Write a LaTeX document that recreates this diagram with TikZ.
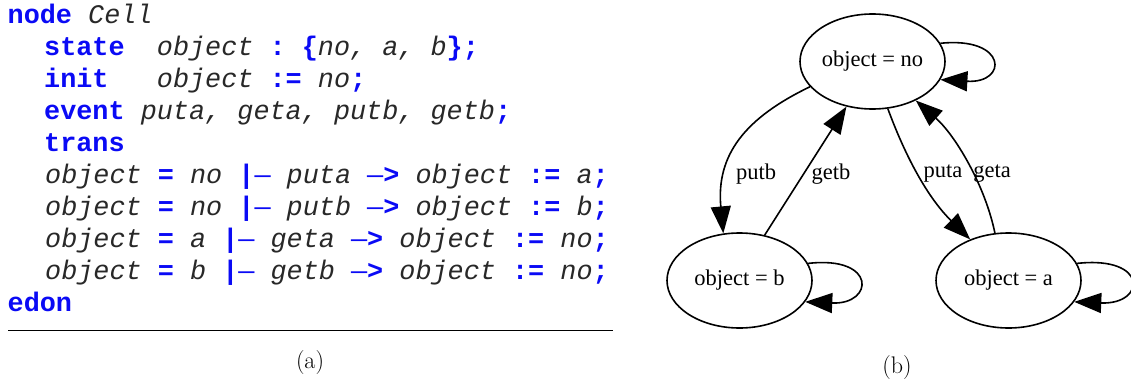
\documentclass[tikz,border=0pt]{standalone}
\usepackage{fontspec}
\usetikzlibrary{shapes.geometric,arrows.meta}
\newfontfamily\codefont{Liberation Mono}
\newfontfamily\gvfont{Liberation Serif}
\definecolor{kwblue}{RGB}{10,10,245}
\definecolor{idcol}{RGB}{40,40,40}
\newlength\cw \setlength\cw{16.1pt}
\newcommand\kw[1]{{\color{kwblue}\bfseries #1}}
\newcommand\vr[1]{{\color{idcol}\itshape #1}}
\newcommand\dsh{{\color{kwblue}\upshape\mdseries —}}
\newcommand\sk[1]{\hspace*{#1\cw}}
\begin{document}
\begin{tikzpicture}[x=1pt,y=-1pt,
  codeline/.style={anchor=base west,inner sep=0pt,font=\codefont\fontsize{26.83}{32}\selectfont},
  state/.style={ellipse,draw,line width=1.6pt,minimum width=145pt,minimum height=95pt,inner sep=0pt,font=\gvfont\fontsize{22.5}{26}\selectfont},
  edge/.style={line width=1.6pt,-{Triangle[length=27pt,width=20pt]}},
  elabel/.style={inner sep=0pt,font=\gvfont\fontsize{22.5}{26}\selectfont},
  caption/.style={inner sep=0pt,font=\fontsize{24}{28}\selectfont}]
\useasboundingbox (0,0) rectangle (1131,385);
% code listing
\node[codeline] (l1) at (7.5,23.5) {\kw{node}\sk{1}\vr{Cell}};
\node[codeline] (l2) at (44,55.5) {\kw{state}\sk{2}\vr{object}\sk{1}\kw{:}\sk{1}\kw{\{}\vr{no,}\sk{1}\vr{a,}\sk{1}\vr{b}\kw{\};}};
\node[codeline] (l3) at (44,87.5) {\kw{init}\sk{3}\vr{object}\sk{1}\kw{:=}\sk{1}\vr{no}\kw{;}};
\node[codeline] (l4) at (44,119.5) {\kw{event}\sk{1}\vr{puta,}\sk{1}\vr{geta,}\sk{1}\vr{putb,}\sk{1}\vr{getb}\kw{;}};
\node[codeline] (l5) at (44,151.5) {\kw{trans}};
\node[codeline] (l6) at (45,183.5) {\vr{object}\sk{1}\kw{=}\sk{1}\vr{no}\sk{1}\kw{|}\dsh\sk{1}\vr{puta}\sk{1}\dsh\kw{>}\sk{1}\vr{object}\sk{1}\kw{:=}\sk{1}\vr{a}\kw{;}};
\node[codeline] (l7) at (45,215.5) {\vr{object}\sk{1}\kw{=}\sk{1}\vr{no}\sk{1}\kw{|}\dsh\sk{1}\vr{putb}\sk{1}\dsh\kw{>}\sk{1}\vr{object}\sk{1}\kw{:=}\sk{1}\vr{b}\kw{;}};
\node[codeline] (l8) at (45,247.5) {\vr{object}\sk{1}\kw{=}\sk{1}\vr{a}\sk{1}\kw{|}\dsh\sk{1}\vr{geta}\sk{1}\dsh\kw{>}\sk{1}\vr{object}\sk{1}\kw{:=}\sk{1}\vr{no}\kw{;}};
\node[codeline] (l9) at (45,279.5) {\vr{object}\sk{1}\kw{=}\sk{1}\vr{b}\sk{1}\kw{|}\dsh\sk{1}\vr{getb}\sk{1}\dsh\kw{>}\sk{1}\vr{object}\sk{1}\kw{:=}\sk{1}\vr{no}\kw{;}};
\node[codeline] (l10) at (7.5,311.5) {\kw{edon}};
\coordinate (rl) at (8,330);
\coordinate (rr) at (613,330);
\draw[line width=0.8pt] (rl) -- (rr);
\node[caption] (capa) at (310,363) {(a)};
% graph
\node[state] (no) at (872.5,61.5) {object = no};
\node[state] (b) at (739.5,280.5) {object = b};
\node[state] (a) at (1008.5,280.5) {object = a};
\draw[edge] (no.15) .. controls +(67,-7) and +(68,4) .. (no.345);
\draw[edge] (b.14.5) .. controls +(69,-8) and +(69,3) .. (b.342);
\draw[edge] (a.14.5) .. controls +(72,-8) and +(72,3) .. (a.342);
\draw[edge] (no.202) .. controls (745,118) and (716,155) .. (b.109);
\draw[edge] (b.61) -- (no.240);
\draw[edge] (no.288) .. controls (903,150) and (925,195) .. (a.133);
\draw[edge] (a.106) .. controls (985,185) and (955,135) .. (no.318);
\node[elabel] (lputb) at (756,174) {putb};
\node[elabel] (lgetb) at (831,174) {getb};
\node[elabel] (lputa) at (943,174) {puta};
\node[elabel] (lgeta) at (992,174) {geta};
\node[caption] (capb) at (897,368) {(b)};
\end{tikzpicture}
\end{document}
